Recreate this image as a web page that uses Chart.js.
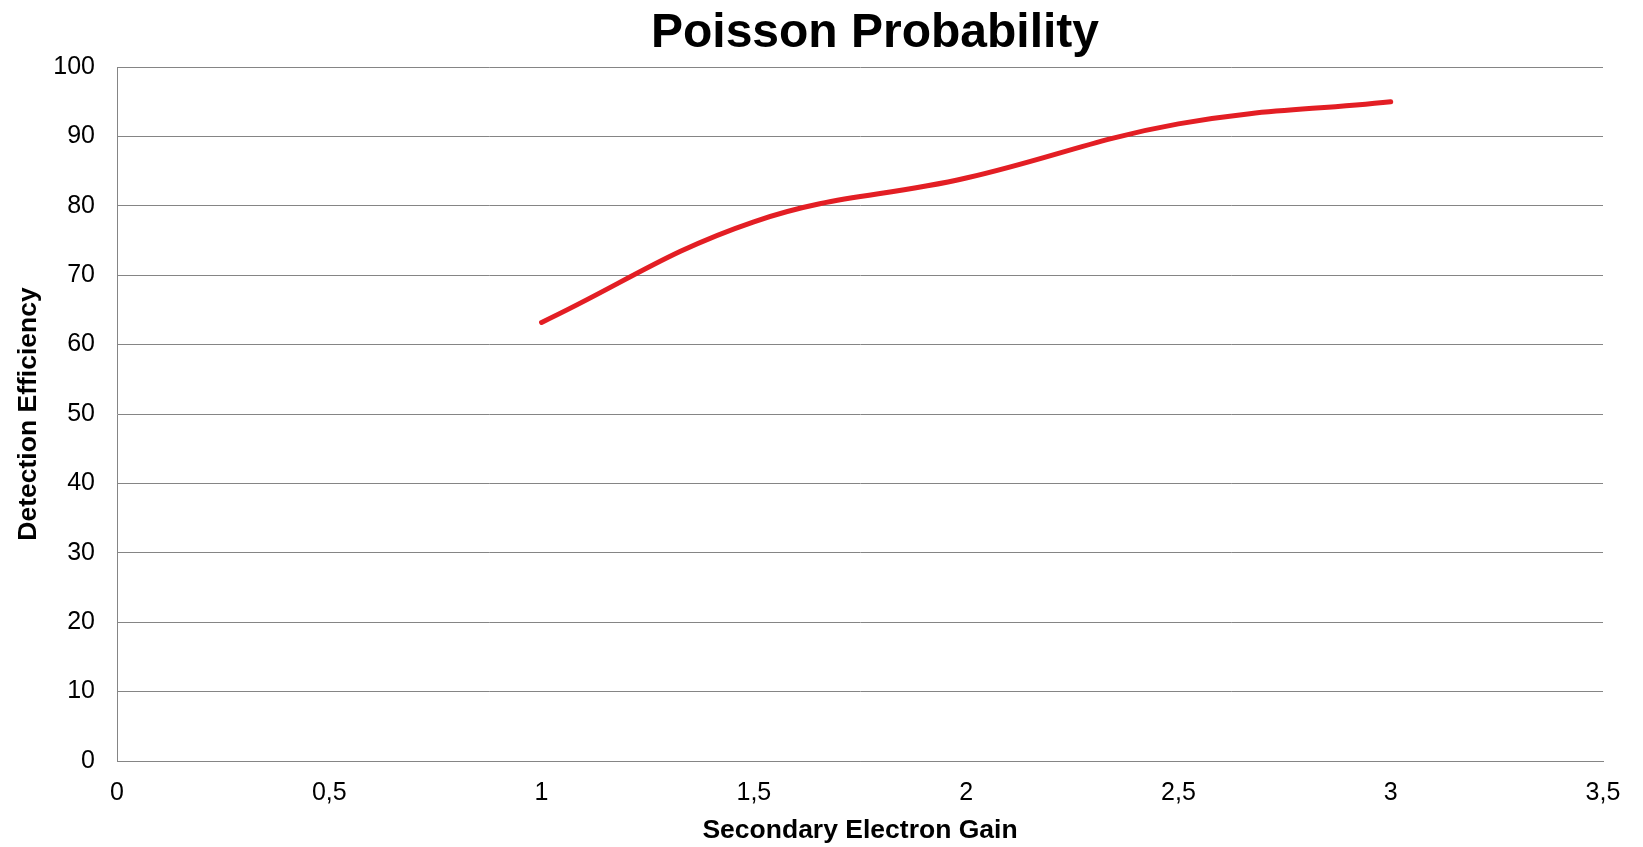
<!DOCTYPE html>
<html>
<head>
<meta charset="utf-8">
<title>Poisson Probability</title>
<script src="https://cdn.jsdelivr.net/npm/chart.js@4/dist/chart.umd.min.js"></script>
<style>
  html, body { margin: 0; padding: 0; background: #ffffff; }
  #wrap { width: 1643px; height: 847px; position: relative; }
</style>
</head>
<body>
<div id="wrap"><canvas id="chart" width="1643" height="847"></canvas></div>
<script>
// Measured detection efficiency (%) against secondary electron gain
const gainValues = [1, 1.5, 2, 2.5, 3];
const efficiencyValues = [63.2, 77.7, 84, 91.8, 95];

// Axis tick labels (comma decimal separator)
const xTickValues = [0, 0.5, 1, 1.5, 2, 2.5, 3, 3.5];
const xTickLabels = ['0', '0,5', '1', '1,5', '2', '2,5', '3', '3,5'];
const yTickLabels = ['0', '10', '20', '30', '40', '50', '60', '70', '80', '90', '100'];

const chartTitle = 'Poisson Probability';
const xAxisTitle = 'Secondary Electron Gain';
const yAxisTitle = 'Detection Efficiency';

const FONT = "'Liberation Sans', Arial, sans-serif";
const GRID = '#858585';

const points = gainValues.map((g, i) => ({ x: g, y: efficiencyValues[i] }));

// Title drawn centred over the plot, slightly right of canvas centre
const titlePlugin = {
  id: 'topTitle',
  afterDraw(chart) {
    const ctx = chart.ctx;
    ctx.save();
    ctx.font = 'bold 48px ' + FONT;
    ctx.fillStyle = '#000';
    ctx.textAlign = 'center';
    ctx.textBaseline = 'alphabetic';
    ctx.fillText(chartTitle, 875, 47);
    ctx.restore();
  }
};

new Chart(document.getElementById('chart'), {
  type: 'line',
  data: {
    datasets: [{
      data: points,
      borderColor: '#e31e24',
      borderWidth: 5,
      borderCapStyle: 'round',
      borderJoinStyle: 'round',
      pointRadius: 0,
      tension: 0.4,
      fill: false
    }]
  },
  options: {
    responsive: false,
    animation: false,
    layout: { padding: { top: 67, right: 40, left: 0, bottom: 0 } },
    plugins: {
      legend: { display: false },
      title: { display: false },
      tooltip: { enabled: false }
    },
    scales: {
      x: {
        type: 'linear',
        min: 0,
        max: 3.5,
        afterBuildTicks(scale) {
          scale.ticks = xTickValues.map(v => ({ value: v }));
        },
        afterFit(scale) { scale.height = 86; },
        ticks: {
          autoSkip: false,
          maxRotation: 0,
          padding: 17,
          color: '#000',
          font: { family: FONT, size: 25 },
          callback(value) {
            const i = xTickValues.indexOf(value);
            return i >= 0 ? xTickLabels[i] : '';
          }
        },
        grid: { display: false, drawTicks: false },
        border: { display: true, color: GRID, width: 1 },
        title: {
          display: true,
          text: xAxisTitle,
          color: '#000',
          font: { family: FONT, size: 26.5, weight: 'bold' },
          padding: { top: 0, bottom: 0 }
        }
      },
      y: {
        type: 'linear',
        min: 0,
        max: 100,
        afterBuildTicks(scale) {
          scale.ticks = yTickLabels.map(t => ({ value: Number(t) }));
        },
        afterFit(scale) { scale.width = 117; },
        ticks: {
          padding: 22,
          color: '#000',
          font: { family: FONT, size: 25 },
          callback(value) {
            const i = yTickLabels.indexOf(String(value));
            return i >= 0 ? yTickLabels[i] : '';
          }
        },
        grid: { color: GRID, lineWidth: 1, drawTicks: false },
        border: { display: true, color: GRID, width: 1 },
        title: {
          display: true,
          text: yAxisTitle,
          color: '#000',
          font: { family: FONT, size: 26.5, weight: 'bold' },
          padding: { top: 13, bottom: 0 }
        }
      }
    }
  },
  plugins: [titlePlugin]
});
</script>
</body>
</html>
